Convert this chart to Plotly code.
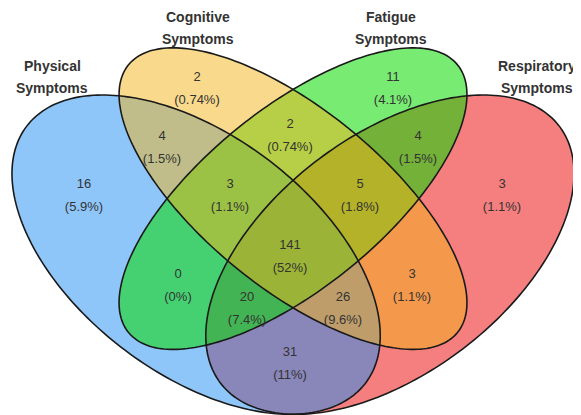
import numpy as np
import plotly.graph_objects as go

# ---------------- data ----------------
set_names = ["Physical<br>Symptoms", "Cognitive<br>Symptoms", "Fatigue<br>Symptoms", "Respiratory<br>Symptoms"]
# region membership codes: P=Physical, C=Cognitive, F=Fatigue, R=Respiratory
region_keys = ["P", "C", "F", "R", "PC", "CF", "FR", "PCF", "CFR", "PF", "PCFR", "CR", "PFR", "PCR", "PR"]
region_counts = [16, 2, 11, 3, 4, 2, 4, 3, 5, 0, 141, 3, 20, 26, 31]

# ---------------- layout helpers ----------------
W, H = 581, 415
OFF = 8  # page body margin
SX, SY = 646.0, 560.0


def to_px(x, y):
    return 12 + (x - 0.065) * SX, 48 + (0.769 - y) * SY


# ellipse geometry in unit space (center x, center y, semi-major, semi-minor, angle deg)
ellipses = {
    "P": (0.35, 0.40, 0.35, 0.20, -45),
    "C": (0.50, 0.50, 0.35, 0.15, -45),
    "F": (0.50, 0.50, 0.35, 0.15, 45),
    "R": (0.65, 0.40, 0.35, 0.20, 45),
}
fills = {
    "R": "rgba(235,0,0,0.5)",
    "P": "rgba(30,142,245,0.5)",
    "F": "rgba(10,219,0,0.55)",
    "C": "rgba(243,179,25,0.5)",
}
draw_order = ["R", "P", "F", "C"]


def ellipse_path(cx, cy, a, b, ang):
    t = np.linspace(0, 2 * np.pi, 240)
    th = np.deg2rad(ang)
    ux = a * np.cos(t)
    vy = b * np.sin(t)
    x = cx + ux * np.cos(th) - vy * np.sin(th)
    y = cy + ux * np.sin(th) + vy * np.cos(th)
    px, py = to_px(x, y)
    pts = [f"{xx:.2f},{yy:.2f}" for xx, yy in zip(px, py)]
    return "M " + " L ".join(pts) + " Z"


shapes = []
for k in draw_order:
    shapes.append(dict(type="path", path=ellipse_path(*ellipses[k]), fillcolor=fills[k],
                       line=dict(width=0), layer="below", xref="x", yref="y"))
for k in draw_order:
    shapes.append(dict(type="path", path=ellipse_path(*ellipses[k]), fillcolor="rgba(0,0,0,0)",
                       line=dict(width=1.6, color="#1a1a1a"), layer="below", xref="x", yref="y"))

# label positions (pixels) for each region (count line y; percent goes below)
label_pos = {
    "P": (84, 185), "C": (197, 78), "F": (393, 78), "R": (502, 185),
    "PC": (162, 137), "CF": (290, 125), "FR": (418, 137),
    "PCF": (230, 185), "CFR": (360, 185),
    "PF": (178, 275), "PCFR": (290, 246), "CR": (412, 275),
    "PFR": (247, 298), "PCR": (343, 298), "PR": (290, 353),
}
title_pos = [(52, 66), (198, 17), (391, 17), (537, 66)]

total = sum(region_counts)
xs, ys, txt = [], [], []
for key, c in zip(region_keys, region_counts):
    x, y = label_pos[key]
    pct = 100.0 * c / total
    xs += [x, x]
    ys += [y, y + 23]
    txt += [str(c), f"({pct:.2g}%)"]

fig = go.Figure()
fig.add_trace(go.Scatter(x=xs, y=ys, text=txt, mode="text", textposition="middle center",
                         textfont=dict(family="Liberation Sans, Arial, sans-serif", size=13, color="#333333"),
                         hoverinfo="skip", showlegend=False))

annotations = []
for name, (x, y) in zip(set_names, title_pos):
    for i, line in enumerate(name.split("<br>")):
        annotations.append(dict(x=x, y=y + 22 * i, text=f"<b>{line}</b>", showarrow=False,
                                xref="x", yref="y", xanchor="center", yanchor="middle",
                                font=dict(family="Liberation Sans, Arial, sans-serif", size=14, color="#333333")))

fig.update_layout(
    width=W - OFF, height=H - OFF, margin=dict(l=0, r=0, t=0, b=0),
    paper_bgcolor="white", plot_bgcolor="white",
    xaxis=dict(range=[OFF, W], visible=False, fixedrange=True),
    yaxis=dict(range=[H, OFF], visible=False, fixedrange=True),
    shapes=shapes, annotations=annotations, showlegend=False,
)
fig.write_html("out.html")
